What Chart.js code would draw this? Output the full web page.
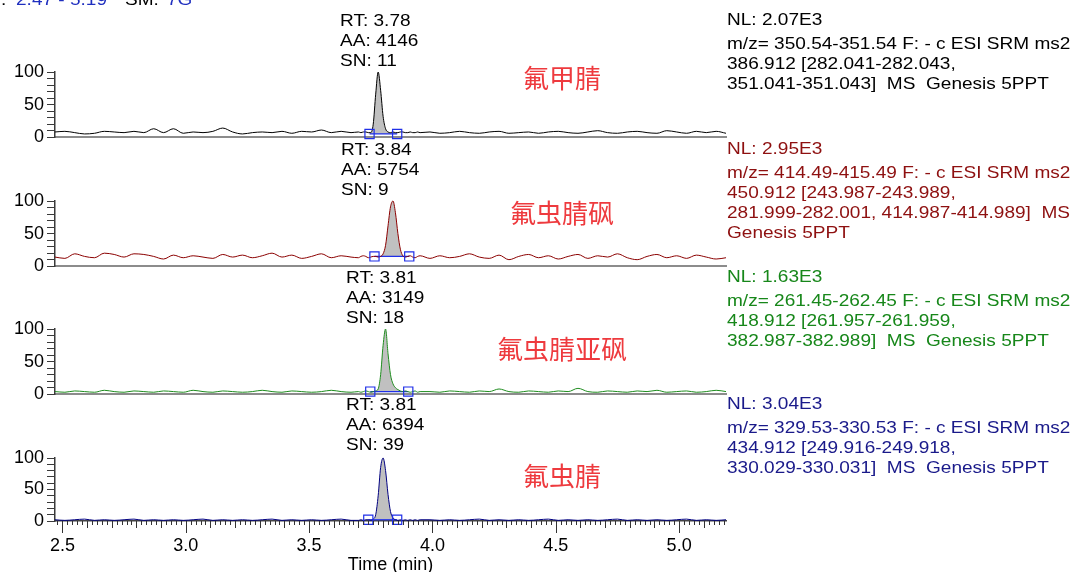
<!DOCTYPE html>
<html>
<head>
<meta charset="utf-8">
<script src="https://cdn.jsdelivr.net/npm/chart.js@4.4.1/dist/chart.umd.min.js"></script>
<style>
  html, body { margin: 0; padding: 0; background: #fff; }
  #wrap { position: relative; width: 1075px; height: 572px; overflow: hidden; }
  #wrap canvas { position: absolute; left: 0; }
</style>
</head>
<body>
<div id="wrap">
  <canvas id="p0" width="1075" height="151" style="top:0px"></canvas>
  <canvas id="p1" width="1075" height="151" style="top:129px"></canvas>
  <canvas id="p2" width="1075" height="151" style="top:257px"></canvas>
  <canvas id="p3" width="1075" height="186" style="top:386px"></canvas>
</div>
<script>
// retention time (min)
const times = [
  2.47, 2.51, 2.55, 2.59, 2.63, 2.67, 2.71, 2.75, 2.79, 2.83, 2.87, 2.91, 2.95, 2.99, 3.03, 3.07,
  3.11, 3.15, 3.19, 3.23, 3.27, 3.31, 3.35, 3.39, 3.43, 3.47, 3.51, 3.55, 3.59, 3.63, 3.67,
  3.70, 3.71, 3.72, 3.73, 3.74, 3.75, 3.76, 3.77, 3.78, 3.79, 3.80, 3.81, 3.82, 3.83, 3.84,
  3.85, 3.86, 3.87, 3.88, 3.89, 3.90, 3.91, 3.92, 3.93, 3.94, 3.95,
  3.99, 4.03, 4.07, 4.11, 4.15, 4.19, 4.23, 4.27, 4.31, 4.35, 4.39, 4.43, 4.47, 4.51, 4.55, 4.59,
  4.63, 4.67, 4.71, 4.75, 4.79, 4.83, 4.87, 4.91, 4.95, 4.99, 5.03, 5.07, 5.11, 5.15, 5.19
];

// relative abundance (%) per trace
const fluMethyl = [
  8, 9, 7, 5, 6, 9, 8, 7, 9, 7, 13, 7, 13, 6, 8, 7, 9, 14, 8, 5, 7, 8, 7, 9, 6, 9, 8, 11, 7, 9, 7,
  8, 7, 8, 8, 7, 7, 20, 66, 100, 72, 32, 13, 8, 7, 8, 7, 7, 8, 8, 7, 7, 8, 7, 7, 8, 7,
  8, 6, 7, 9, 7, 6, 8, 9, 6, 7, 8, 6, 8, 9, 7, 6, 8, 10, 7, 6, 8, 9, 7, 6, 10, 8, 6, 9, 7, 9, 6
];
const fipSulfone = [
  14, 12, 19, 15, 13, 20, 18, 14, 19, 18, 15, 11, 17, 13, 16, 14, 12, 18, 14, 17, 13, 16, 20, 14, 17, 12, 15, 19, 13, 16, 14,
  13, 15, 16, 15, 13, 14, 15, 15, 14, 15, 19, 32, 62, 91, 100, 82, 50, 26, 16, 14, 15, 16, 14, 13, 15, 16,
  12, 16, 13, 15, 19, 14, 12, 17, 10, 15, 18, 13, 16, 11, 15, 18, 12, 16, 14, 19, 13, 10, 15, 18, 13, 16, 12, 17, 14, 11, 13
];
const fipSulfide = [
  4, 3, 5, 4, 3, 6, 4, 3, 5, 4, 3, 5, 4, 3, 6, 4, 3, 5, 4, 3, 4, 6, 4, 3, 5, 4, 3, 4, 6, 4, 3,
  4, 3, 4, 5, 4, 3, 4, 5, 8, 30, 75, 100, 62, 30, 16, 10, 7, 5, 4, 5, 4, 3, 4, 5, 3, 4,
  4, 3, 5, 4, 3, 5, 4, 8, 4, 3, 5, 4, 3, 5, 4, 9, 4, 3, 5, 4, 3, 5, 4, 6, 3, 4, 5, 3, 4, 6, 4
];
const fipronil = [
  2, 1, 2, 3, 1, 2, 1, 2, 3, 1, 2, 1, 2, 1, 2, 3, 1, 2, 1, 2, 1, 2, 3, 1, 2, 1, 2, 1, 2, 3, 1,
  1, 2, 1, 2, 2, 1, 3, 10, 40, 85, 100, 80, 42, 15, 5, 2, 1, 2, 1, 2, 1, 2, 1, 2, 1, 2,
  2, 1, 2, 1, 2, 3, 1, 2, 1, 2, 1, 2, 3, 1, 2, 1, 2, 1, 2, 3, 1, 2, 1, 2, 1, 2, 3, 1, 2, 1, 2
];

// integration window of each peak
const peakStart = [3.745, 3.765, 3.748, 3.740];
const peakEnd = [3.857, 3.906, 3.902, 3.857];
const peakBase = [5, 15, 4, 2];

const compounds = ['氟甲腈', '氟虫腈砜', '氟虫腈亚砜', '氟虫腈'];
const rtLabels = ['3.78', '3.84', '3.81', '3.81'];
const areaLabels = ['4146', '5754', '3149', '6394'];
const snLabels = ['11', '9', '18', '39'];
const nlLabels = ['2.07E3', '2.95E3', '1.63E3', '3.04E3'];
const scanLines = [
  ['m/z= 350.54-351.54 F: - c ESI SRM ms2', '386.912 [282.041-282.043,', '351.041-351.043]  MS  Genesis 5PPT'],
  ['m/z= 414.49-415.49 F: - c ESI SRM ms2', '450.912 [243.987-243.989,', '281.999-282.001, 414.987-414.989]  MS', 'Genesis 5PPT'],
  ['m/z= 261.45-262.45 F: - c ESI SRM ms2', '418.912 [261.957-261.959,', '382.987-382.989]  MS  Genesis 5PPT'],
  ['m/z= 329.53-330.53 F: - c ESI SRM ms2', '434.912 [249.916-249.918,', '330.029-330.031]  MS  Genesis 5PPT']
];
const timeRange = [2.47, 5.19];
const yTickLabels = [0, 50, 100];

const traces = [fluMethyl, fipSulfone, fipSulfide, fipronil];
const traceColors = ['#000000', '#8b0000', '#1e8c1e', '#000080'];
const textColors = ['#000000', '#8e1010', '#17871a', '#1a1a8a'];
const annLeft = [340, 341, 346, 346];
const nameDy = [-59, -53, -45, -45];
const BLUE = '#1f2fe8';
const FONT = '"Liberation Sans", Arial, sans-serif';

function stretchText(ctx, text, x, y, color, size) {
  ctx.save();
  ctx.font = size + 'px ' + FONT;
  ctx.fillStyle = color;
  ctx.textBaseline = 'middle';
  ctx.textAlign = 'left';
  ctx.translate(x, y);
  ctx.scale(1.12, 1);
  ctx.fillText(text, 0, 0);
  ctx.restore();
}

const panelText = {
  id: 'panelText',
  afterDraw(chart, args, o) {
    const ctx = chart.ctx;
    const i = o.index;
    const zero = chart.scales.y.getPixelForValue(0);

    stretchText(ctx, 'RT: ' + rtLabels[i], annLeft[i], zero - 116, '#000', 17);
    stretchText(ctx, 'AA: ' + areaLabels[i], annLeft[i], zero - 96, '#000', 17);
    stretchText(ctx, 'SN: ' + snLabels[i], annLeft[i], zero - 76, '#000', 17);

    stretchText(ctx, 'NL: ' + nlLabels[i], 727, zero - 117, textColors[i], 17);
    scanLines[i].forEach((line, k) => {
      stretchText(ctx, line, 727, zero - 93 + k * 20, textColors[i], 17);
    });

    ctx.save();
    ctx.font = '26px "Noto Sans CJK SC", sans-serif';
    ctx.fillStyle = '#ee3a3e';
    ctx.textAlign = 'center';
    ctx.textBaseline = 'middle';
    ctx.fillText(compounds[i], 562, zero + nameDy[i]);
    ctx.restore();

    if (i === 0) {
      // header line, cut by the top edge
      ctx.save();
      ctx.textBaseline = 'alphabetic';
      ctx.font = '17px ' + FONT;
      const pieces = [['RT:', -22, '#000'], [timeRange[0].toFixed(2) + ' - ' + timeRange[1].toFixed(2), 16, '#1f2fbf'],
                      ['SM:', 125, '#000'], ['7G', 167, '#1f2fbf']];
      pieces.forEach(p => {
        ctx.save();
        ctx.fillStyle = p[2];
        ctx.translate(p[1], 5);
        ctx.scale(1.12, 1);
        ctx.fillText(p[0], 0, 0);
        ctx.restore();
      });
      ctx.restore();
    }

    if (i === 3) {
      // minor / medium / major time ticks
      const x = chart.scales.x;
      const y0 = chart.chartArea.bottom;
      ctx.save();
      ctx.strokeStyle = '#333';
      ctx.lineWidth = 1;
      ctx.beginPath();
      for (let k = 124; k <= 259; k++) {
        const px = Math.round(x.getPixelForValue(k / 50)) + 0.5;
        const len = k % 25 === 0 ? 12 : (k % 5 === 0 ? 7 : 4);
        ctx.moveTo(px, y0);
        ctx.lineTo(px, y0 + len);
      }
      ctx.stroke();
      ctx.restore();
    }
  }
};

function makePanel(i) {
  const isLast = i === 3;
  const pts = times.map((t, k) => ({ x: t, y: traces[i][k] }));
  const marks = [{ x: peakStart[i], y: peakBase[i] }, { x: peakEnd[i], y: peakBase[i] }];
  const area = [marks[0]]
    .concat(pts.filter(p => p.x > peakStart[i] && p.x < peakEnd[i]))
    .concat([marks[1]]);
  const tickFont = { family: FONT, size: 18 };

  new Chart(document.getElementById('p' + i), {
    type: 'line',
    data: {
      datasets: [
        { data: marks, showLine: false, pointStyle: 'rect', pointRadius: 6.5, pointBorderWidth: 1.2,
          pointBorderColor: BLUE, pointBackgroundColor: 'rgba(0,0,0,0)', clip: false, order: 0 },
        { data: pts, borderColor: traceColors[i], borderWidth: 1, pointRadius: 0,
          cubicInterpolationMode: 'monotone', clip: false, order: 1 },
        { data: marks, borderColor: BLUE, borderWidth: 1.2, pointRadius: 0, order: 2 },
        { data: area, borderWidth: 0, pointRadius: 0, backgroundColor: '#c0c0c0',
          fill: { value: peakBase[i] }, cubicInterpolationMode: 'monotone', order: 3 }
      ]
    },
    options: {
      responsive: false,
      animation: false,
      events: [],
      layout: { padding: { top: 72, right: 349, bottom: isLast ? 0 : 10, left: 0 } },
      plugins: {
        legend: { display: false },
        tooltip: { enabled: false },
        panelText: { index: i }
      },
      scales: {
        x: {
          type: 'linear',
          min: timeRange[0],
          max: timeRange[1],
          afterFit: s => { s.height = isLast ? 51 : 0; },
          border: { display: true, color: isLast ? '#444' : '#8c8c8c', width: isLast ? 1.5 : 2 },
          grid: { display: false, drawTicks: false },
          ticks: {
            display: isLast, stepSize: 0.5, includeBounds: false, autoSkip: false, maxRotation: 0,
            padding: 14, color: '#000', font: tickFont,
            callback: v => v.toFixed(1)
          },
          title: { display: isLast, text: 'Time (min)', padding: { top: 0, bottom: -4 }, color: '#000', font: tickFont }
        },
        y: {
          min: 0,
          max: 100,
          afterFit: s => { s.width = 55; },
          border: { color: '#3a3a3a', width: 1.5 },
          grid: { drawOnChartArea: false, tickLength: 8, color: '#3a3a3a' },
          ticks: {
            stepSize: 10, autoSkip: false, padding: 3, color: '#000', font: tickFont,
            callback: v => (yTickLabels.includes(v) ? String(v) : '')
          }
        }
      }
    },
    plugins: [panelText]
  });
}

[0, 1, 2, 3].forEach(makePanel);
</script>
</body>
</html>
